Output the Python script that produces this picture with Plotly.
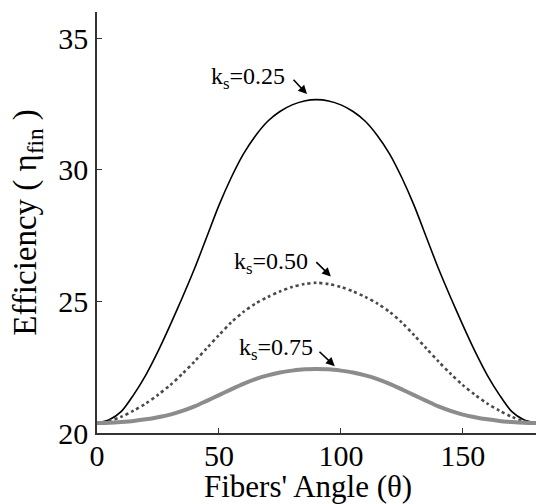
import plotly.graph_objects as go

theta = list(range(0, 181, 5))
half_025 = [20.38, 20.50, 20.82, 21.45, 22.20, 23.10, 24.10, 25.15, 26.25, 27.45,
            28.65, 29.70, 30.60, 31.30, 31.85, 32.22, 32.47, 32.62, 32.67]
half_050 = [20.38, 20.45, 20.62, 20.85, 21.12, 21.45, 21.82, 22.25, 22.72, 23.22,
            23.72, 24.20, 24.60, 24.92, 25.17, 25.38, 25.55, 25.66, 25.71]
half_075 = [20.38, 20.39, 20.42, 20.46, 20.52, 20.60, 20.70, 20.84, 21.01, 21.22,
            21.44, 21.66, 21.87, 22.05, 22.19, 22.30, 22.37, 22.42, 22.43]
# curves are symmetric about 90 degrees (values read on the left half, mirrored)
eff_025 = half_025 + half_025[-2::-1]
eff_050 = half_050 + half_050[-2::-1]
eff_075 = half_075 + half_075[-2::-1]
x_ticks = [0, 50, 100, 150]
y_ticks = [20, 25, 30, 35]

FONT = "Liberation Serif"

fig = go.Figure()
fig.add_trace(go.Scatter(x=theta, y=eff_025, mode="lines", line=dict(color="black", width=1.6, shape="spline", smoothing=0.8)))
fig.add_trace(go.Scatter(x=theta, y=eff_050, mode="lines", line=dict(color="#4a4a4a", width=2.6, dash="dot", shape="spline", smoothing=0.8)))
fig.add_trace(go.Scatter(x=theta, y=eff_075, mode="lines", line=dict(color="#8c8c8c", width=4, shape="spline", smoothing=0.8)))

labels = [
    ("k<sub>s</sub>=0.25", 77.9, 33.48, 86.1, 32.88, 80.0, 33.48),
    ("k<sub>s</sub>=0.50", 87.3, 26.48, 95.9, 25.95, 89.3, 26.55),
    ("k<sub>s</sub>=0.75", 89.3, 23.18, 97.5, 22.54, 90.6, 23.14),
]
for txt, tx, ty, hx, hy, ax, ay in labels:
    fig.add_annotation(x=tx, y=ty, text=txt, showarrow=False, xanchor="right", yanchor="middle",
                       font=dict(family=FONT, size=24, color="black"))
    fig.add_annotation(x=hx, y=hy, ax=ax, ay=ay, axref="x", ayref="y", text="", showarrow=True,
                       arrowhead=2, arrowsize=1.1, arrowwidth=1.6, arrowcolor="black")

fig.add_annotation(xref="paper", yref="paper", x=0.48, y=-0.127, text="Fibers' Angle (θ)", showarrow=False,
                   xanchor="center", yanchor="middle", font=dict(family=FONT, size=31, color="black"))
fig.add_annotation(xref="paper", yref="paper", x=-0.159, y=0.50, text="Efficiency ( η<sub>fin</sub> )", showarrow=False,
                   textangle=-90, xanchor="center", yanchor="middle", font=dict(family=FONT, size=33, color="black"))

fig.update_layout(
    width=536, height=504,
    margin=dict(l=97, r=0, t=12, b=71),
    paper_bgcolor="white", plot_bgcolor="white",
    showlegend=False,
    font=dict(family=FONT, color="black"),
)
fig.update_xaxes(range=[0, 180], tickvals=x_ticks, ticks="inside", ticklen=5, tickwidth=1, tickcolor="#333",
                 showline=True, linecolor="#333", linewidth=1.5, showgrid=False, zeroline=False,
                 tickfont=dict(family=FONT, size=30, color="black"), ticklabelstandoff=-5)
fig.update_yaxes(range=[20, 36], tickvals=y_ticks, ticks="inside", ticklen=5, tickwidth=1, tickcolor="#333",
                 showline=True, linecolor="#333", linewidth=1.5, showgrid=False, zeroline=False,
                 tickfont=dict(family=FONT, size=30, color="black"), ticklabelstandoff=1)

fig.write_html("out.html", config={"displayModeBar": False},
               post_script="document.body.style.margin='0';document.body.style.overflow='hidden';")
